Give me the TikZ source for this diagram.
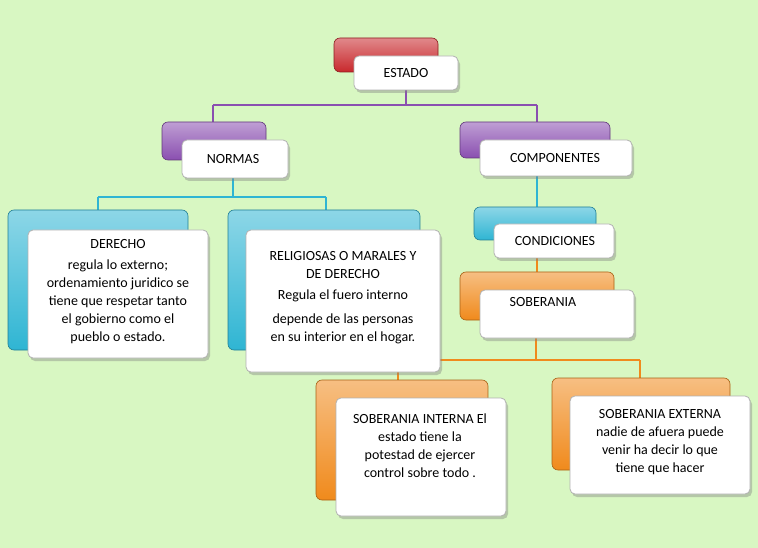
\documentclass[tikz,border=0pt]{standalone}
\usepackage{fontspec}
\setmainfont{Carlito}
\usetikzlibrary{shadows}
\definecolor{bg}{HTML}{D8F7C2}
\definecolor{cred}{HTML}{C8282C}
\definecolor{cpur}{HTML}{8A4FB0}
\definecolor{ccya}{HTML}{2FB5D3}
\definecolor{cora}{HTML}{F08A1C}
\tikzset{
 backbox/.style={rounded corners=6pt, top color=#1!55!white, bottom color=#1, draw=#1!70!black, line width=0.6pt},
 frontbox/.style={rounded corners=5pt, fill=white, draw=gray!60, line width=0.8pt, drop shadow={shadow xshift=2pt, shadow yshift=-3pt, opacity=0.4}},
 txt/.style={font=\fontsize{14}{18}\selectfont, align=center},
 conn/.style={line width=1.3pt, draw=#1}
}
\begin{document}
\begin{tikzpicture}[x=1pt,y=-1pt]
\fill[bg] (0,0) rectangle (758,548);
\useasboundingbox (0,0) rectangle (758,548);
% connectors
\coordinate (e1) at (406,105); \coordinate (n1) at (213,105); \coordinate (c1) at (537,105);
\draw[conn=cpur] (406,90) -- (e1) (n1) -- (c1) (n1) -- (213,122) (c1) -- (537,122);
\draw[conn=ccya] (233,178) -- (233,197) (98,197) -- (326,197) (98,197) -- (98,210) (326,197) -- (326,210);
\draw[conn=ccya] (537,176) -- (537,207);
\draw[conn=cora] (537,258) -- (537,272);
\draw[conn=cora] (536,338) -- (536,360) (398,360) -- (640,360) (398,360) -- (398,380) (640,360) -- (640,378);
% ESTADO
\draw[backbox=cred] (334,38) rectangle (438,72);
\draw[frontbox] (354,56) rectangle (458,90);
\node[txt] (estado) at (406,73) {ESTADO};
% NORMAS
\draw[backbox=cpur] (162,122) rectangle (266,160);
\draw[frontbox] (182,140) rectangle (288,178);
\node[txt] (normas) at (233,159) {NORMAS};
% COMPONENTES
\draw[backbox=cpur] (460,122) rectangle (610,158);
\draw[frontbox] (480,140) rectangle (632,176);
\node[txt] (comp) at (555,158) {COMPONENTES};
% DERECHO
\draw[backbox=ccya] (8,210) rectangle (188,350);
\draw[frontbox] (28,230) rectangle (208,358);
\node[txt, anchor=north] (der) at (118,236) {DERECHO\\[3pt] regula lo externo;\\ ordenamiento juridico se\\ tiene que respetar tanto\\ el gobierno como el\\ pueblo o estado.};
% RELIGIOSAS
\draw[backbox=ccya] (228,210) rectangle (420,350);
\draw[frontbox] (246,230) rectangle (440,372);
\node[txt, anchor=north] (rel) at (343,248) {RELIGIOSAS O MARALES Y\\ DE DERECHO\\[3pt] Regula el fuero interno\\[6pt] depende de las personas\\ en su interior en el hogar.};
% CONDICIONES
\draw[backbox=ccya] (474,207) rectangle (596,240);
\draw[frontbox] (494,224) rectangle (614,258);
\node[txt] (cond) at (555,241) {CONDICIONES};
% SOBERANIA
\draw[backbox=cora] (460,272) rectangle (614,320);
\draw[frontbox] (480,290) rectangle (634,338);
\node[txt] (sob) at (543,302) {SOBERANIA};
% INTERNA
\draw[backbox=cora] (316,380) rectangle (488,500);
\draw[frontbox] (336,398) rectangle (506,516);
\node[txt, anchor=north] (sint) at (420,410) {SOBERANIA INTERNA El\\ estado tiene la\\ potestad de ejercer\\ control sobre todo .};
% EXTERNA
\draw[backbox=cora] (552,378) rectangle (730,470);
\draw[frontbox] (570,396) rectangle (750,494);
\node[txt, anchor=north] (sext) at (660,406) {SOBERANIA EXTERNA\\ nadie de afuera puede\\ venir ha decir lo que\\ tiene que hacer};
\end{tikzpicture}
\end{document}
